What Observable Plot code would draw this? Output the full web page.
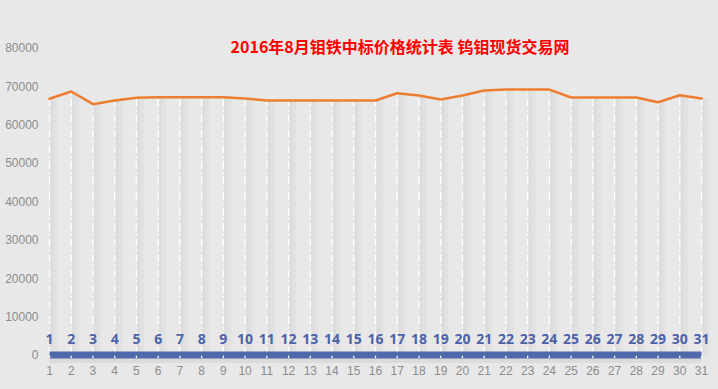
<!DOCTYPE html>
<html>
<head>
<meta charset="utf-8">
<script src="https://cdn.jsdelivr.net/npm/d3@7"></script>
<script src="https://cdn.jsdelivr.net/npm/@observablehq/plot@0.6"></script>
<style>
  html, body { margin: 0; padding: 0; background: #e8e8e8; }
  #wrap { position: relative; width: 718px; height: 389px; background: #e8e8e8; overflow: hidden; }
  #title { position: absolute; left: 0; width: 800px; top: 34px; text-align: center;
    font-family: "Noto Sans CJK SC", sans-serif; font-weight: bold; font-size: 16px; color: #ff0000; }
</style>
</head>
<body>
<div id="wrap"><div id="title">2016年8月钼铁中标价格统计表 钨钼现货交易网</div></div>
<script>
const days = d3.range(1, 32);
const prices = [66900, 68800, 65500, 66450, 67150, 67300, 67300, 67300, 67300, 66970,
                66450, 66450, 66450, 66450, 66450, 66450, 68350, 67760, 66700, 67750,
                69060, 69300, 69300, 69300, 67240, 67240, 67240, 67240, 66000, 67830, 66970];
const dayValues = days.slice(); // second series: value equals the day number
const yTicks = [0, 10000, 20000, 30000, 40000, 50000, 60000, 70000, 80000];

const data = days.map((d, i) => ({day: d, price: prices[i], small: dayValues[i]}));

const chart = Plot.plot({
  width: 718,
  height: 389,
  marginLeft: 49,
  marginRight: 17,
  marginTop: 48,
  marginBottom: 34,
  style: {background: "#e8e8e8", fontFamily: "Liberation Sans, Arial, sans-serif", fontSize: "12px", color: "#8a8a8a"},
  x: {domain: [1, 31], ticks: days, tickFormat: d => String(d), label: null},
  y: {domain: [0, 80000], ticks: yTicks, tickFormat: d => String(d), label: null},
  marks: [
    // drop line shadows
    Plot.ruleX(data, {x: "day", y1: 0, y2: "price", stroke: "#dcdcdc", strokeWidth: 8, dx: 4, strokeOpacity: 0.45}),
    Plot.ruleX(data, {x: "day", y1: 0, y2: "price", stroke: "#d8d8d8", strokeWidth: 3, dx: 2.5, strokeOpacity: 0.45}),
    // drop lines
    Plot.ruleX(data, {x: "day", y1: 0, y2: "price", stroke: "#ffffff", strokeWidth: 1.3, strokeDasharray: "8,3,1.5,3"}),
    // small series band shadow
    Plot.line(data, {x: "day", y: "small", stroke: "#cdcdcd", strokeWidth: 9, dy: 3, strokeOpacity: 0.5, strokeLinecap: "butt"}),
    Plot.line(data, {x: "day", y: "small", stroke: "#5069aa", strokeWidth: 7, dy: -0.5, strokeLinecap: "butt"}),
    Plot.ruleX(data, {x: "day", y1: 0, y2: 600, stroke: "#ffffff", strokeWidth: 1.3, dy: 3}),
    Plot.text(data, {x: "day", y: "small", text: d => String(d.small), dy: -16, fill: "#4c63a8", fontWeight: "bold", fontSize: 14, fontFamily: "Open Sans, sans-serif"}),
    // price line
    Plot.line(data, {x: "day", y: "price", stroke: "#ed7d31", strokeWidth: 2.5}),
    Plot.axisY({ticks: yTicks, tickSize: 0, tickPadding: 11, tickFormat: d => String(d), fill: "#8c8c8c", fontSize: 12, label: null}),
    Plot.axisX({ticks: days, tickSize: 0, tickPadding: 11, tickFormat: d => String(d), fill: "#8c8c8c", fontSize: 12, label: null})
  ]
});
document.getElementById("wrap").prepend(chart);
chart.style.position = "absolute";
chart.style.left = "0";
chart.style.top = "0";
</script>
</body>
</html>
